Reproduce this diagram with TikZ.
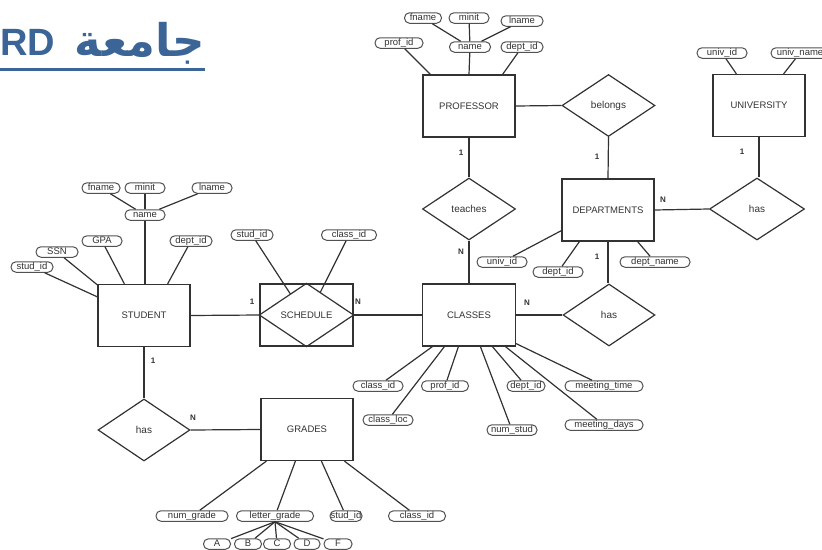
\documentclass[tikz,border=0pt]{standalone}
\usepackage{fontspec}
\setmainfont{Liberation Sans}
\newfontfamily\arabicfont[Script=Arabic]{DejaVu Sans}
\TeXXeTstate=1
\usetikzlibrary{shapes.geometric,calc}
\definecolor{titleblue}{RGB}{59,100,151}
\definecolor{ink}{RGB}{50,50,50}
\begin{document}
\begin{tikzpicture}[x=1pt,y=1pt,
 conn/.style={draw=ink, line width=1.2pt},
 entity/.style={draw=ink, line width=1.2pt, minimum width=92pt, minimum height=62pt, inner sep=0pt, font=\fontsize{9.5}{10}\selectfont, text=ink},
 rel/.style={diamond, draw=ink, line width=1.2pt, minimum width=93pt, minimum height=62pt, inner sep=0pt, font=\fontsize{10}{10}\selectfont, text=ink},
 attr/.style={draw=ink!85, line width=1pt, rounded corners=5pt, minimum height=10.5pt, inner sep=0pt, text height=6.5pt, text depth=2pt, font=\fontsize{9.5}{10}\selectfont, text=ink},
 card/.style={font=\fontsize{8}{8}\selectfont\bfseries, text=ink, inner sep=0pt},
 title/.style={font=\fontsize{38}{40}\selectfont\bfseries, text=titleblue, inner sep=0pt}
]
\useasboundingbox (0,0) rectangle (822,-549);
\clip (0,0) rectangle (822,-549);

% title
\node[title, anchor=base west] (tRD) at (0,-55) {RD};
\node[title, anchor=base east, font=\fontsize{45}{46}\selectfont\bfseries] (tAr) at (205,-56) {\arabicfont\beginR جامعة\endR};
\draw[titleblue, line width=3pt] ([yshift=-14pt]tRD.base west) -- ([yshift=-14pt]tRD.base west -| tAr.east);

% entities
\node[entity] (prof) at (469,-106) {PROFESSOR};
\node[entity] (univ) at (759,-105.5) {UNIVERSITY};
\node[entity] (dept) at (608,-210) {DEPARTMENTS};
\node[entity] (stud) at (144,-315.5) {STUDENT};
\node[entity, minimum width=93pt] (sched) at (306.5,-315) {};
\node[entity, minimum width=93pt] (class) at (469,-315) {CLASSES};
\node[entity] (grade) at (307,-429.5) {GRADES};

% schedule diamond inside box
\draw[conn] (sched.west) -- (sched.north) -- (sched.east) -- (sched.south) -- cycle;
\node[font=\fontsize{9.5}{10}\selectfont, text=ink] (schedtxt) at (sched.center) {SCHEDULE};

% relationships
\node[rel] (belongs) at (608.5,-105.5) {belongs};
\node[rel] (teaches) at (469,-209) {teaches};
\node[rel, minimum width=95pt] (hasU) at (757,-209) {has};
\node[rel, minimum width=92pt] (hasC) at (609,-315) {has};
\node[rel, minimum width=92pt] (hasS) at (144,-430) {has};

% relationship links
\draw[conn] (prof.east) -- (belongs.west);
\draw[conn] (belongs.south) -- (dept.north);
\draw[conn] (prof.south) -- (teaches.north);
\draw[conn] (teaches.south) -- (class.north);
\draw[conn] (univ.south) -- (univ.south |- hasU.north);
\draw[conn] (dept.east) -- (hasU.west);
\draw[conn] (dept.south) -- (dept.south |- hasC.north);
\draw[conn] (class.east) -- (hasC.west);
\draw[conn] (stud.east) -- (sched.west);
\draw[conn] (sched.east) -- (class.west);
\draw[conn] (stud.south) -- (hasS.north);
\draw[conn] (hasS.east) -- (grade.west);

% cardinalities
\node[card] (c1) at (461,-153) {1};
\node[card] (c2) at (461,-252) {N};
\node[card] (c3) at (597,-157) {1};
\node[card] (c4) at (742,-152) {1};
\node[card] (c5) at (663,-200) {N};
\node[card] (c6) at (597,-257) {1};
\node[card] (c7) at (527,-303) {N};
\node[card] (c8) at (252,-302) {1};
\node[card] (c9) at (358,-302) {N};
\node[card] (c10) at (153,-361) {1};
\node[card] (c11) at (193,-418) {N};

% professor attributes
\node[attr, minimum width=37pt] (pfn) at (423,-18) {fname};
\node[attr, minimum width=40pt] (pmi) at (469,-18) {minit};
\node[attr, minimum width=42pt] (pln) at (522,-21) {lname};
\node[attr, minimum width=41pt] (pnm) at (470,-47) {name};
\node[attr, minimum width=48pt] (pid) at (399,-43) {prof\_id};
\node[attr, minimum width=42pt] (pdi) at (522,-47) {dept\_id};
\draw[conn] (pfn) -- (pnm);
\draw[conn] (pmi) -- (pnm);
\draw[conn] (pln) -- (pnm);
\draw[conn] (pnm) -- (prof.north);
\draw[conn] (pid) -- ([xshift=8pt]prof.north west);
\draw[conn] (pdi) -- ([xshift=-13pt]prof.north east);

% university attributes
\node[attr, minimum width=50pt] (uid) at (722,-53) {univ\_id};
\node[attr, minimum width=58pt] (unm) at (800,-53) {univ\_name};
\draw[conn] (uid) -- ([xshift=24pt]univ.north west);
\draw[conn] (unm) -- ([xshift=-22pt]univ.north east);

% department attributes
\node[attr, minimum width=50pt] (duid) at (502,-262) {univ\_id};
\node[attr, minimum width=50pt] (ddid) at (558,-272) {dept\_id};
\node[attr, minimum width=70pt] (ddnm) at (655,-262) {dept\_name};
\draw[conn] (duid) -- ([yshift=11pt]dept.south west);
\draw[conn] (ddid) -- ([xshift=18pt]dept.south west);
\draw[conn] (ddnm) -- ([xshift=-17pt]dept.south east);

% student attributes
\node[attr, minimum width=38pt] (sfn) at (101,-188) {fname};
\node[attr, minimum width=40pt] (smi) at (145,-188) {minit};
\node[attr, minimum width=40pt] (sln) at (212,-188) {lname};
\node[attr, minimum width=40pt] (snm) at (145,-215) {name};
\node[attr, minimum width=40pt] (sgpa) at (102,-241) {GPA};
\node[attr, minimum width=42pt] (sssn) at (57,-252) {SSN};
\node[attr, minimum width=42pt] (ssid) at (32,-267) {stud\_id};
\node[attr, minimum width=42pt] (sdid) at (191,-241) {dept\_id};
\draw[conn] (sfn) -- (snm);
\draw[conn] (smi) -- (snm);
\draw[conn] (sln) -- (snm);
\draw[conn] (snm) -- (snm |- stud.north);
\draw[conn] (sgpa) -- ([xshift=27pt]stud.north west);
\draw[conn] (sssn) -- ([yshift=-1pt]stud.north west);
\draw[conn] (ssid) -- ([yshift=-13pt]stud.north west);
\draw[conn] (sdid) -- ([xshift=-23pt]stud.north east);

% schedule attributes
\node[attr, minimum width=42pt] (scsid) at (252,-235) {stud\_id};
\node[attr, minimum width=55pt] (sccid) at (349,-235) {class\_id};
\draw[conn] (scsid) -- ($(sched.west)!0.66!(sched.north)$);
\draw[conn] (sccid) -- ($(sched.north)!0.29!(sched.east)$);

% classes attributes
\node[attr, minimum width=50pt] (ccid) at (378,-386) {class\_id};
\node[attr, minimum width=47pt] (cpid) at (445,-386) {prof\_id};
\node[attr, minimum width=50pt] (cloc) at (388,-420) {class\_loc};
\node[attr, minimum width=50pt] (cnum) at (512,-430) {num\_stud};
\node[attr, minimum width=38pt] (cdid) at (526,-386) {dept\_id};
\node[attr, minimum width=78pt] (cmt) at (604,-386) {meeting\_time};
\node[attr, minimum width=78pt] (cmd) at (604,-425) {meeting\_days};
\draw[conn] ([xshift=10.5pt]class.south west) -- (ccid);
\draw[conn] ([xshift=22.5pt]class.south west) -- (cloc);
\draw[conn] ([xshift=36.5pt]class.south west) -- (cpid);
\draw[conn] ([xshift=58.5pt]class.south west) -- (cnum);
\draw[conn] ([xshift=70.5pt]class.south west) -- (cdid);
\draw[conn] ([xshift=83.5pt]class.south west) -- (cmd);
\draw[conn] ([yshift=3pt]class.south east) -- (cmt);

% grades attributes
\node[attr, minimum width=72pt] (gnum) at (192,-516) {num\_grade};
\node[attr, minimum width=77pt] (glet) at (275,-516) {letter\_grade};
\node[attr, minimum width=32pt] (gsid) at (346,-516) {stud\_id};
\node[attr, minimum width=57pt] (gcid) at (417,-516) {class\_id};
\draw[conn] ([xshift=6pt]grade.south west) -- (gnum);
\draw[conn] ([xshift=35pt]grade.south west) -- (glet);
\draw[conn] ([xshift=61pt]grade.south west) -- (gsid);
\draw[conn] ([xshift=84pt]grade.south west) -- (gcid);

\node[attr, minimum width=27pt] (gA) at (217,-544) {A};
\node[attr, minimum width=27pt] (gB) at (248,-544) {B};
\node[attr, minimum width=27pt] (gC) at (277,-544) {C};
\node[attr, minimum width=26pt] (gD) at (307,-544) {D};
\node[attr, minimum width=28pt] (gF) at (338,-544) {F};
\foreach \g in {gA,gB,gC,gD,gF} \draw[conn] (glet.south) -- (\g);
\end{tikzpicture}
\end{document}
